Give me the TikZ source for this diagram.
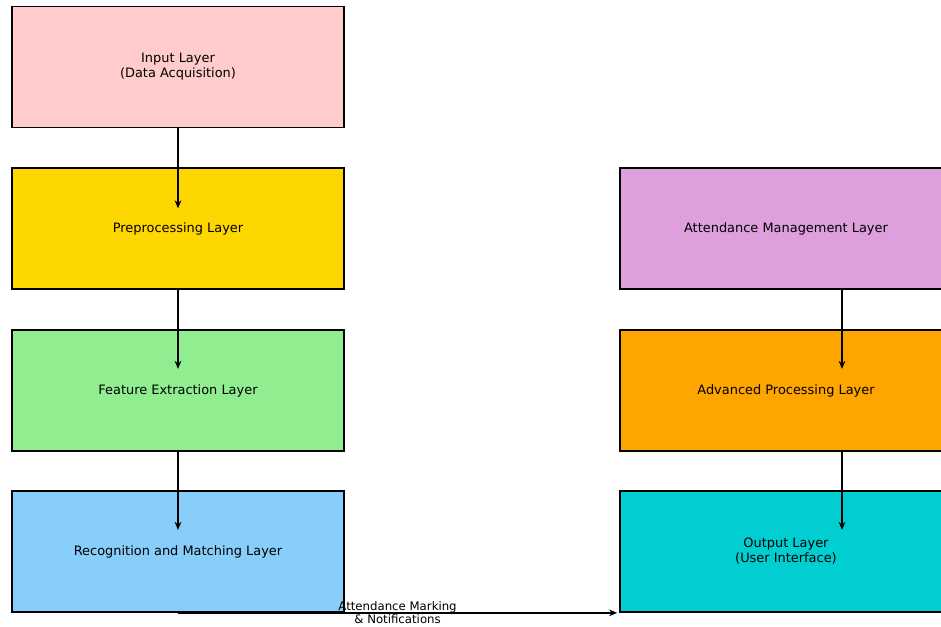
\documentclass[tikz,border=0pt]{standalone}
\usepackage{fontspec}
\setmainfont{DejaVu Sans}
\usetikzlibrary{arrows.meta}

\definecolor{inpink}{HTML}{FFCCCB}
\definecolor{pregold}{HTML}{FFD700}
\definecolor{featgreen}{HTML}{90EE90}
\definecolor{recblue}{HTML}{87CEFA}
\definecolor{attplum}{HTML}{DDA0DD}
\definecolor{advorange}{HTML}{FFA500}
\definecolor{outcyan}{HTML}{00CED1}

\tikzset{
    layer/.style={draw=black, line width=1.3pt, minimum width=249pt, minimum height=90.75pt,
        align=center, font=\fontsize{9.7}{11.3}\selectfont, inner sep=0pt},
    flow/.style={-{Stealth[length=6pt,width=5pt]}, line width=1.1pt}
}

\begin{document}
\begin{tikzpicture}[x=0.75pt, y=-0.75pt]
        \useasboundingbox (0, 0) rectangle (941, 627);
        \clip (0, 0) rectangle (941, 627);

        \node[layer, fill=inpink] (inp) at (178, 67) {Input Layer\\(Data Acquisition)};
        \node[layer, fill=pregold] (pre) at (178, 228.5) {Preprocessing Layer};
        \node[layer, fill=featgreen] (feat) at (178, 390.5) {Feature Extraction Layer};
        \node[layer, fill=recblue] (rec) at (178, 551.5) {Recognition and Matching Layer};

        \node[layer, fill=attplum] (att) at (786, 228.5) {Attendance Management Layer};
        \node[layer, fill=advorange] (adv) at (786, 390.5) {Advanced Processing Layer};
        \node[layer, fill=outcyan] (out) at (786, 551.5) {Output Layer\\(User Interface)};

        \draw[flow] (inp.south) -- ++(0, 80);
        \draw[flow] (pre.south) -- ++(0, 79);
        \draw[flow] (feat.south) -- ++(0, 78);

        \draw[flow] ([xshift=42pt]att.south) -- ++(0, 79);
        \draw[flow] ([xshift=42pt]adv.south) -- ++(0, 78);

        \draw[flow] (rec.south) -- ([xshift=-1.5pt]out.south west)
            node[midway, align=center, font=\fontsize{8.8}{9.8}\selectfont] (mark) {Attendance Marking\\\& Notifications};
    \end{tikzpicture}
\end{document}
